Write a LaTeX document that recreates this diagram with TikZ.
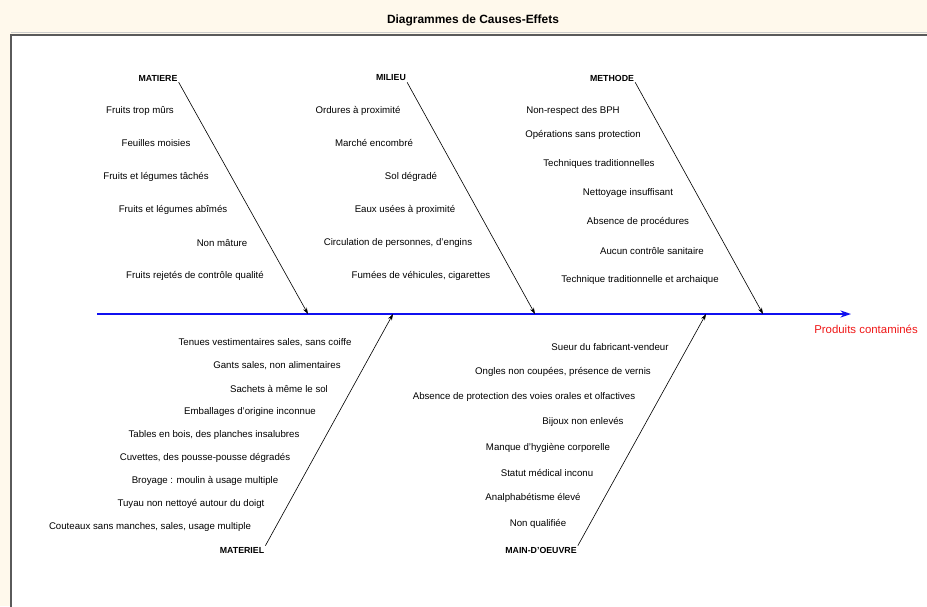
\documentclass[tikz,border=0pt]{standalone}
\usepackage{fontspec}
\setmainfont{Liberation Sans}
\usetikzlibrary{arrows.meta}
\definecolor{creme}{HTML}{FFF9EC}
\definecolor{grisCadre}{HTML}{5A5A5A}
\definecolor{bleuAxe}{HTML}{1010F0}
\definecolor{rougeEffet}{HTML}{F01818}

\begin{document}
\begin{tikzpicture}[x=0.02cm,y=-0.02cm,
    cause/.style={font=\fontsize{5.5}{6}\selectfont,inner sep=0.5pt},
    categorie/.style={font=\fontsize{5}{6}\selectfont\bfseries,inner sep=0.5pt},
    rama/.style={black,line width=0.35pt,-{Stealth[length=3.6pt,width=2.4pt]}}]
    % fond
    \useasboundingbox (0,0) rectangle (927,606);
    \fill[creme] (0,0) rectangle (927,606);
    \draw[gray!40,line width=0.5pt] (11,32.5) -- (940,32.5);
    \filldraw[fill=white,draw=grisCadre,line width=1.1pt] (11,35) rectangle (940,620);
    \node[font=\fontsize{6.8}{7}\selectfont\bfseries] (titre) at (473,20) {Diagrammes de Causes-Effets};
    % axe principal
    \coordinate (debut) at (97,314);
    \coordinate (fin) at (851,314);
    \draw[bleuAxe,line width=1.2pt,-{Stealth[length=6pt,width=4pt]}] (debut) -- (fin);
    \node[font=\fontsize{6.5}{7}\selectfont,text=rougeEffet] (effet) at (866,329) {Produits contaminés};
    % points d'arrivee sur l'axe
    \coordinate (pMatiere) at (308,314);
    \coordinate (pMilieu) at (535,314);
    \coordinate (pMethode) at (763,314);
    \coordinate (pMateriel) at (393,314);
    \coordinate (pMain) at (706,314);
    % categories
    \node[categorie] (matiere) at (158,78) {MATIERE};
    \node[categorie] (milieu) at (391,78) {MILIEU};
    \node[categorie] (methode) at (612,78) {METHODE};
    \node[categorie] (materiel) at (242,550) {MATERIEL};
    \node[categorie] (main) at (541,550) {MAIN-D'OEUVRE};
    \draw[rama] (matiere.south east) -- (pMatiere);
    \draw[rama] (milieu.south east) -- (pMilieu);
    \draw[rama] (methode.south east) -- (pMethode);
    \draw[rama] (materiel.north east) -- (pMateriel);
    \draw[rama] (main.north east) -- (pMain);
    % matiere
    \node[cause] (mat1) at (140,111) {Fruits trop mûrs};
    \node[cause] (mat2) at (156,143) {Feuilles moisies};
    \node[cause] (mat3) at (156,177) {Fruits et légumes tâchés};
    \node[cause] (mat4) at (173,210) {Fruits et légumes abîmés};
    \node[cause] (mat5) at (222,243) {Non mâture};
    \node[cause] (mat6) at (195,276) {Fruits rejetés de contrôle qualité};
    % milieu
    \node[cause] (mil1) at (358,111) {Ordures à proximité};
    \node[cause] (mil2) at (374,143) {Marché encombré};
    \node[cause] (mil3) at (411,177) {Sol dégradé};
    \node[cause] (mil4) at (405,210) {Eaux usées à proximité};
    \node[cause] (mil5) at (398,243) {Circulation de personnes, d'engins};
    \node[cause] (mil6) at (421,276) {Fumées de véhicules, cigarettes};
    % methode
    \node[cause] (met1) at (573,111) {Non-respect des BPH};
    \node[cause] (met2) at (583,135) {Opérations sans protection};
    \node[cause] (met3) at (599,164) {Techniques traditionnelles};
    \node[cause] (met4) at (628,193) {Nettoyage insuffisant};
    \node[cause] (met5) at (638,222) {Absence de procédures};
    \node[cause] (met6) at (652,251) {Aucun contrôle sanitaire};
    \node[cause] (met7) at (640,280) {Technique traditionnelle et archaique};
    % materiel
    \node[cause] (mtl1) at (265,343) {Tenues vestimentaires sales, sans coiffe};
    \node[cause] (mtl2) at (277,366) {Gants sales, non alimentaires};
    \node[cause] (mtl3) at (279,389) {Sachets à même le sol};
    \node[cause] (mtl4) at (250,412) {Emballages d'origine inconnue};
    \node[cause] (mtl5) at (214,435) {Tables en bois, des planches insalubres};
    \node[cause] (mtl6) at (205,458) {Cuvettes, des pousse-pousse dégradés};
    \node[cause] (mtl7) at (205,481) {Broyage : moulin à usage multiple};
    \node[cause] (mtl8) at (191,504) {Tuyau non nettoyé autour du doigt};
    \node[cause] (mtl9) at (150,527) {Couteaux sans manches, sales, usage multiple};
    % main-d'oeuvre
    \node[cause] (mo1) at (610,347) {Sueur du fabricant-vendeur};
    \node[cause] (mo2) at (563,372) {Ongles non coupées, présence de vernis};
    \node[cause] (mo3) at (524,397) {Absence de protection des voies orales et olfactives};
    \node[cause] (mo4) at (583,422) {Bijoux non enlevés};
    \node[cause] (mo5) at (548,448) {Manque d'hygiène corporelle};
    \node[cause] (mo6) at (547,473) {Statut médical inconu};
    \node[cause] (mo7) at (533,498) {Analphabétisme élevé};
    \node[cause] (mo8) at (538,524) {Non qualifiée};
\end{tikzpicture}
\end{document}
